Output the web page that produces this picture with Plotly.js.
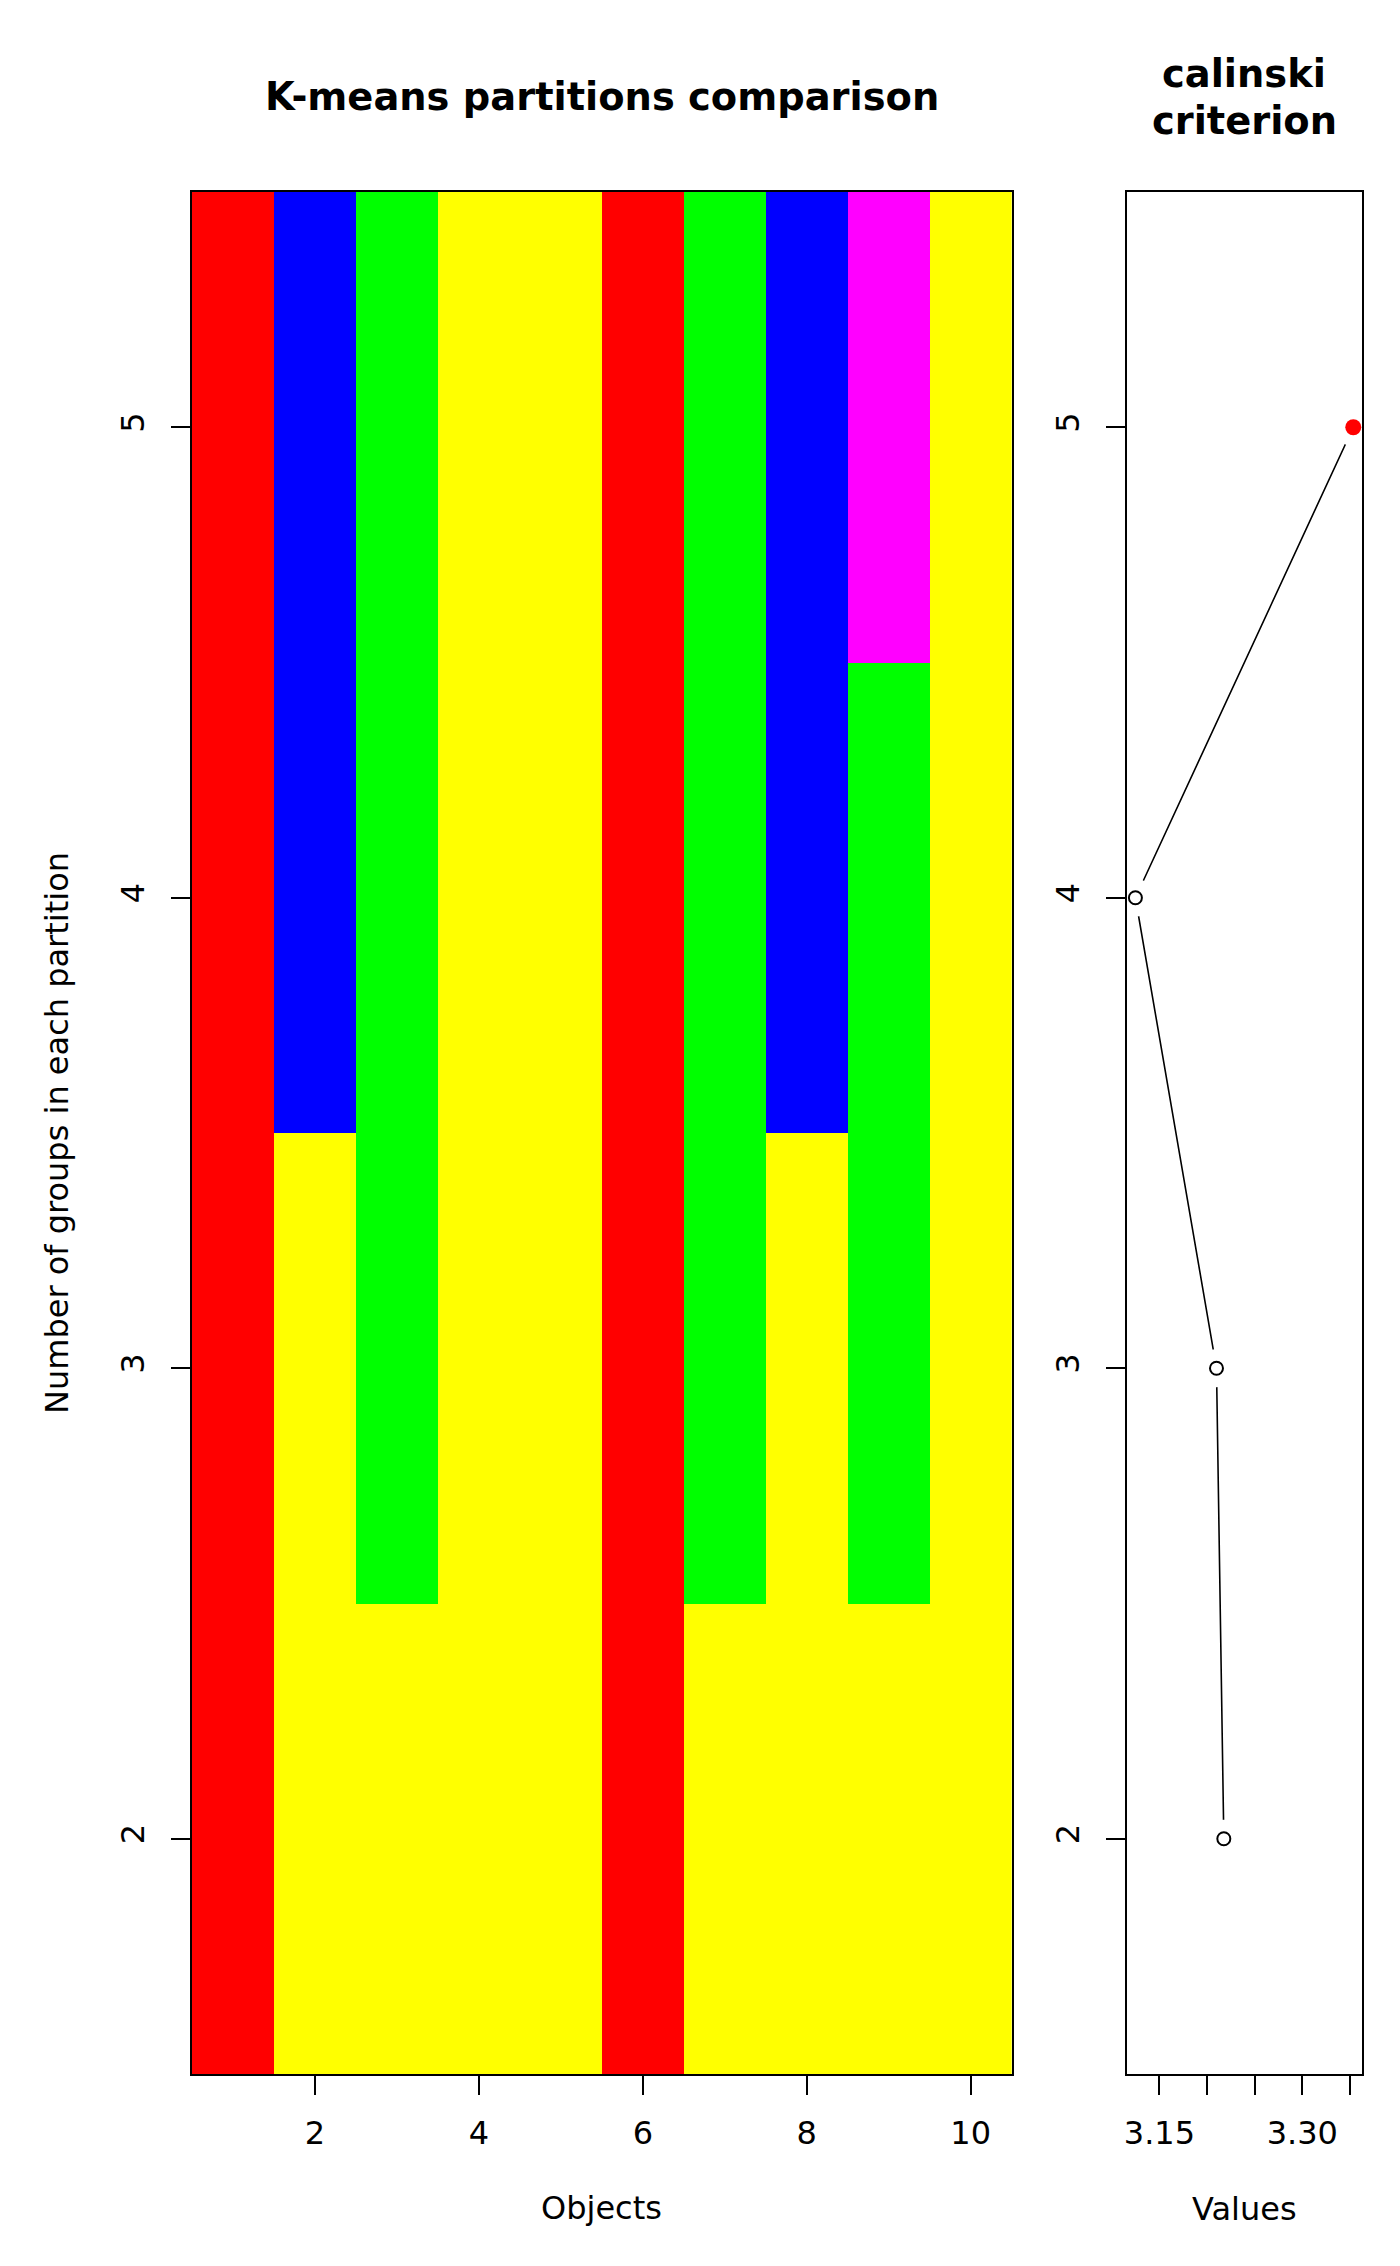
<!DOCTYPE html>
<html><head><meta charset="utf-8">
<script src="https://cdn.plot.ly/plotly-3.0.1.min.js"></script>
<style>html,body{margin:0;padding:0;background:#fff}#chart{width:1400px;height:2266px}</style>
</head><body><div id="chart"></div>
<script>
// ---- data ----
const objects = [1, 2, 3, 4, 5, 6, 7, 8, 9, 10];
const groupCounts = [2, 3, 4, 5];
const partitionK2 = [1, 2, 2, 2, 2, 1, 2, 2, 2, 2];
const partitionK3 = [1, 2, 3, 2, 2, 1, 3, 2, 3, 2];
const partitionK4 = [1, 4, 3, 2, 2, 1, 3, 4, 3, 2];
const partitionK5 = [1, 4, 3, 2, 2, 1, 3, 4, 5, 2];
const clusterColors = ['#FF0000', '#FFFF00', '#00FF00', '#0000FF', '#FF00FF'];
const calinskiValues = [3.2176, 3.2099, 3.1248, 3.3535];
const bestK = 5;
const objectTicks = [2, 4, 6, 8, 10];
const groupTicks = [2, 3, 4, 5];
const valueTicks = [3.15, 3.20, 3.25, 3.30, 3.35];
const valueTickText = ['3.15', '', '', '3.30', ''];

// ---- geometry ----
const W = 1400, H = 2266;
const px = v => v / W, py = v => 1 - v / H;
const FONT = 'DejaVu Sans, sans-serif';

const n = clusterColors.length;
const colorscale = [];
clusterColors.forEach((c, i) => { colorscale.push([i / n, c]); colorscale.push([(i + 1) / n, c]); });

const zMatrix = [partitionK2, partitionK3, partitionK4, partitionK5];

const vmin = Math.min(...calinskiValues), vmax = Math.max(...calinskiValues);
const vext = (vmax - vmin) * 0.04;

const bestIdx = groupCounts.indexOf(bestK);

const traces = [
  { type: 'heatmap', x: objects, y: groupCounts, z: zMatrix, zmin: 0.5, zmax: n + 0.5,
    colorscale: colorscale, showscale: false, hoverinfo: 'skip', xaxis: 'x', yaxis: 'y' },
  { type: 'scatter', mode: 'lines', x: calinskiValues, y: groupCounts,
    line: { color: '#000', width: 1.6 }, xaxis: 'x2', yaxis: 'y2', hoverinfo: 'skip' },
  { type: 'scatter', mode: 'markers', x: calinskiValues, y: groupCounts,
    marker: { size: 38, color: '#fff', line: { width: 0 } }, xaxis: 'x2', yaxis: 'y2', hoverinfo: 'skip' },
  { type: 'scatter', mode: 'markers', x: calinskiValues.filter((v, i) => i !== bestIdx),
    y: groupCounts.filter((v, i) => i !== bestIdx),
    marker: { size: 13, color: '#fff', line: { color: '#000', width: 2 } }, xaxis: 'x2', yaxis: 'y2', hoverinfo: 'skip' },
  { type: 'scatter', mode: 'markers', x: [calinskiValues[bestIdx]], y: [bestK],
    marker: { size: 16, color: '#FF0000', line: { color: '#FF0000', width: 0 } }, xaxis: 'x2', yaxis: 'y2', hoverinfo: 'skip' }
];

const tickFont = { family: FONT, size: 32, color: '#000' };
const axisCommon = {
  showline: true, mirror: true, linecolor: '#000', linewidth: 2,
  showgrid: false, zeroline: false, ticks: 'outside', ticklen: 19, tickwidth: 2, tickcolor: '#000',
  tickfont: tickFont, fixedrange: true
};
const yDomain = [py(2074), py(192)];

const layout = {
  width: W, height: H, margin: { l: 0, r: 0, t: 0, b: 0 },
  paper_bgcolor: '#fff', plot_bgcolor: '#fff', showlegend: false,
  xaxis: Object.assign({}, axisCommon, { domain: [px(192), px(1011.7)], range: [0.5, 10.5],
    tickmode: 'array', tickvals: objectTicks, anchor: 'y', ticklabelstandoff: 11 }),
  yaxis: Object.assign({}, axisCommon, { domain: yDomain, range: [1.5, 5.5],
    tickmode: 'array', tickvals: groupTicks, tickangle: -90, anchor: 'x', ticklabelstandoff: 14 }),
  xaxis2: Object.assign({}, axisCommon, { domain: [px(1126.7), px(1362)], range: [vmin - vext, vmax + vext],
    tickmode: 'array', tickvals: valueTicks, ticktext: valueTickText, anchor: 'y2', ticklabelstandoff: 11 }),
  yaxis2: Object.assign({}, axisCommon, { domain: yDomain, range: [1.5, 5.5],
    tickmode: 'array', tickvals: groupTicks, tickangle: -90, anchor: 'x2', ticklabelstandoff: 14 }),
  annotations: [
    { text: '<b>K-means partitions comparison</b>', xref: 'paper', yref: 'paper', x: px(601.8), y: py(97),
      xanchor: 'center', yanchor: 'middle', showarrow: false, font: { family: FONT, size: 38.4, color: '#000' } },
    { text: '<b>calinski</b>', xref: 'paper', yref: 'paper', x: px(1244.4), y: py(73),
      xanchor: 'center', yanchor: 'middle', showarrow: false, font: { family: FONT, size: 38.4, color: '#000' } },
    { text: '<b>criterion</b>', xref: 'paper', yref: 'paper', x: px(1244.4), y: py(120),
      xanchor: 'center', yanchor: 'middle', showarrow: false, font: { family: FONT, size: 38.4, color: '#000' } },
    { text: 'Objects', xref: 'paper', yref: 'paper', x: px(601.8), y: py(2208),
      xanchor: 'center', yanchor: 'middle', showarrow: false, font: { family: FONT, size: 32, color: '#000' } },
    { text: 'Values', xref: 'paper', yref: 'paper', x: px(1244.4), y: py(2209),
      xanchor: 'center', yanchor: 'middle', showarrow: false, font: { family: FONT, size: 32, color: '#000' } },
    { text: 'Number of groups in each partition', xref: 'paper', yref: 'paper', x: px(57), y: py(1133),
      xanchor: 'center', yanchor: 'middle', textangle: -90, showarrow: false, font: { family: FONT, size: 32, color: '#000' } }
  ]
};

Plotly.newPlot('chart', traces, layout, { staticPlot: true, displayModeBar: false });
</script>
</body></html>
